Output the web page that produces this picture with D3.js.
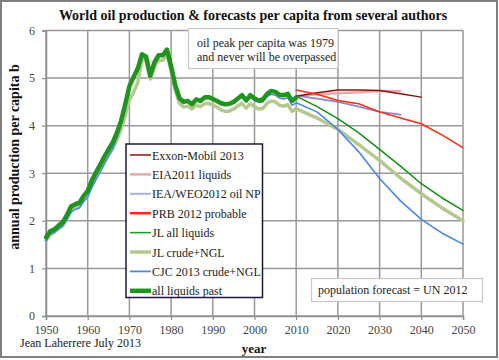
<!DOCTYPE html>
<html><head><meta charset="utf-8">
<script src="https://cdn.jsdelivr.net/npm/d3@7"></script>
<style>
html,body{margin:0;padding:0;background:#fff;}
svg{display:block;}
text{font-family:"Liberation Serif","Times New Roman",serif;}
</style></head>
<body>
<svg id="chart" width="499" height="360"></svg>
<script>
// ---------- DATA ----------
const pastYears = d3.range(1950, 2011);
const allLiquidsPast = [1.65,1.78,1.82,1.90,1.97,2.12,2.30,2.35,2.38,2.52,
  2.63,2.85,3.02,3.18,3.35,3.50,3.65,3.85,4.10,4.45,
  4.83,5.02,5.20,5.50,5.45,5.05,5.33,5.48,5.48,5.60,
  5.25,4.85,4.58,4.50,4.52,4.45,4.55,4.52,4.59,4.60,
  4.56,4.52,4.47,4.45,4.46,4.50,4.57,4.64,4.53,4.64,
  4.57,4.53,4.55,4.67,4.73,4.71,4.65,4.64,4.67,4.52,4.59];
const crudeNglPast = [1.58,1.71,1.76,1.84,1.90,2.05,2.22,2.28,2.31,2.44,
  2.54,2.75,2.91,3.07,3.23,3.38,3.52,3.70,3.92,4.22,
  4.55,4.70,4.90,5.40,5.36,4.98,5.24,5.38,5.37,5.50,
  5.14,4.74,4.47,4.39,4.41,4.35,4.43,4.40,4.46,4.47,
  4.43,4.39,4.33,4.30,4.31,4.35,4.41,4.47,4.37,4.46,
  4.40,4.35,4.36,4.47,4.52,4.50,4.43,4.41,4.44,4.30,4.36];
const cjcPast = [1.57,1.72,1.76,1.83,1.89,2.02,2.18,2.24,2.27,2.40,
  2.50,2.70,2.87,3.03,3.20,3.36,3.52,3.74,4.00,4.40,
  4.80,5.00,5.18,5.50,5.44,5.05,5.32,5.47,5.46,5.60,
  5.24,4.84,4.57,4.49,4.52,4.45,4.55,4.53,4.61,4.62,
  4.56,4.51,4.46,4.44,4.45,4.49,4.55,4.62,4.50,4.60,
  4.53,4.49,4.50,4.61,4.66,4.64,4.58,4.56,4.59,4.43,4.48];

const fcYears = [2010,2015,2020,2025,2030,2035,2040,2045,2050];
const exxonYears = [2010,2015,2020,2025,2030,2035,2040];
const exxon = [4.62,4.69,4.75,4.75,4.74,4.67,4.60];
const eiaYears = [2010,2015,2020,2025,2030,2035];
const eia = [4.62,4.66,4.68,4.70,4.73,4.73];
const ieaYears = [2010,2015,2020,2025,2030,2035];
const iea = [4.63,4.57,4.50,4.40,4.29,4.23];
const prb = [4.75,4.66,4.53,4.46,4.29,4.16,4.04,3.80,3.54];
const jlAll = [4.62,4.40,4.15,3.85,3.50,3.15,2.78,2.48,2.22];
const jlCrude = [4.36,4.16,3.92,3.60,3.27,2.90,2.57,2.27,2.00];
const cjc = [4.48,4.29,3.92,3.45,2.89,2.42,2.03,1.74,1.51];

const xTicks = d3.range(1950, 2051, 10);
const yTicks = [0,1,2,3,4,5,6];

const titleText = "World oil production & forecasts per capita from several authors";
const yLabel = "annual production per capita b";
const xLabel = "year";
const credit = "Jean Laherrere July 2013";
const note1 = ["oil peak per capita was 1979", "and never will be overpassed"];
const note2 = "population forecast = UN 2012";

const legendNames = ["Exxon-Mobil 2013","EIA2011 liquids","IEA/WEO2012 oil NP","PRB 2012 probable",
  "JL all liquids","JL crude+NGL","CJC 2013 crude+NGL","all liquids past"];
const legendColors = ["#8b1010","#eaa8a8","#a4b4e8","#ff2a10","#1c9c1c","#b4c890","#4a86ee","#1e961e"];
const legendWidths = [1.5,2.5,2,2.5,1.5,3.5,1.8,4.5];

// ---------- DRAW ----------
const svg = d3.select("#chart");
const L = 46, R = 463, T = 30.5, B = 316;
const x = d3.scaleLinear().domain([1950, 2050]).range([L, R]);
const y = d3.scaleLinear().domain([0, 6]).range([B, T]);

// outer frame
svg.append("rect").attr("x",1).attr("y",1).attr("width",496).attr("height",356)
  .attr("fill","#fff").attr("stroke","#808080").attr("stroke-width",2);

// grid
const grid = svg.append("g").attr("stroke","#999").attr("stroke-width",1.5);
grid.selectAll(".vg").data(xTicks).join("line")
  .attr("x1",d=>x(d)).attr("x2",d=>x(d)).attr("y1",T).attr("y2",B);
grid.selectAll(".hg").data(yTicks).join("line")
  .attr("x1",L).attr("x2",R).attr("y1",d=>y(d)).attr("y2",d=>y(d));

// axes
const xAxis = svg.append("g").attr("transform",`translate(0,${B})`)
  .call(d3.axisBottom(x).tickValues(xTicks).tickFormat(d3.format("d")).tickSize(4).tickPadding(5));
const yAxis = svg.append("g").attr("transform",`translate(${L},0)`)
  .call(d3.axisLeft(y).tickValues(yTicks).tickFormat(d3.format("d")).tickSize(4).tickPadding(7));
[xAxis,yAxis].forEach(a=>{
  a.attr("font-family",null);
  a.select(".domain").attr("stroke","#909090").attr("stroke-width",1.5);
  a.selectAll(".tick line").attr("stroke","#909090").attr("stroke-width",1.2);
  a.selectAll("text").attr("font-size",12).attr("fill","#444");
});

const line = d3.line().x(d=>x(d[0])).y(d=>y(d[1])).curve(d3.curveLinear);
const zip = (xs, ys) => xs.map((v,i)=>[v, ys[i]]);
const plot = svg.append("g").attr("fill","none").attr("stroke-linejoin","round").attr("stroke-linecap","round");

function draw(pts, color, w){
  plot.append("path").attr("d", line(pts)).attr("stroke", color).attr("stroke-width", w);
}
draw(zip(pastYears, crudeNglPast).concat(zip(fcYears.slice(1), jlCrude.slice(1))), "#b4c890", 3.5);
draw(zip(pastYears, cjcPast).concat(zip(fcYears.slice(1), cjc.slice(1))), "#4a86ee", 1.6);
draw(zip(fcYears, jlAll), "#149014", 1.5);
draw(zip(eiaYears, eia), "#eaa8a8", 2.5);
draw(zip(ieaYears, iea), "#9484c4", 1.8);
draw(zip(exxonYears, exxon), "#8b1010", 1.5);
draw(zip(fcYears, prb), "#ff2a10", 1.5);
draw(zip(pastYears, allLiquidsPast), "#1e961e", 4.5);

// annotation boxes
svg.append("rect").attr("x",188.5).attr("y",28.5).attr("width",149.5).attr("height",40)
  .attr("fill","#fff").attr("stroke","#c8c8c8").attr("stroke-width",1.2);
svg.selectAll(".n1").data(note1).join("text")
  .attr("x",197).attr("y",(d,i)=>47+i*13.5).attr("font-size",12).attr("fill","#222").text(d=>d);

svg.append("rect").attr("x",311.5).attr("y",278.5).attr("width",171).attr("height",23)
  .attr("fill","#fff").attr("stroke","#c8c8c8").attr("stroke-width",1.2);
svg.append("text").attr("x",318).attr("y",294).attr("font-size",12).attr("fill","#222").text(note2);

// legend
const lg = svg.append("g");
lg.append("rect").attr("x",126).attr("y",144).attr("width",136.5).attr("height",153.5)
  .attr("fill","#fff").attr("stroke","#1a1a40").attr("stroke-width",1.5);
const rows = lg.selectAll(".row").data(legendNames).join("g")
  .attr("transform",(d,i)=>`translate(0,${155 + i*19.4})`);
rows.append("line").attr("x1",130).attr("x2",151).attr("y1",0).attr("y2",0)
  .attr("stroke",(d,i)=>legendColors[i]).attr("stroke-width",(d,i)=>legendWidths[i]);
rows.append("text").attr("x",152).attr("y",4.5).attr("font-size",12).attr("fill","#222").text(d=>d);

// titles
svg.append("text").attr("x",253).attr("y",20).attr("text-anchor","middle")
  .attr("font-size",14).attr("font-weight","bold").attr("fill","#111").text(titleText);
svg.append("text").attr("transform","translate(19,157) rotate(-90)").attr("text-anchor","middle")
  .attr("font-size",14).attr("font-weight","bold").attr("fill","#111").text(yLabel);
svg.append("text").attr("x",254).attr("y",353).attr("text-anchor","middle")
  .attr("font-size",13).attr("font-weight","bold").attr("fill","#111").text(xLabel);
svg.append("text").attr("x",20).attr("y",347).attr("font-size",12).attr("fill","#222").text(credit);
</script>
</body></html>
